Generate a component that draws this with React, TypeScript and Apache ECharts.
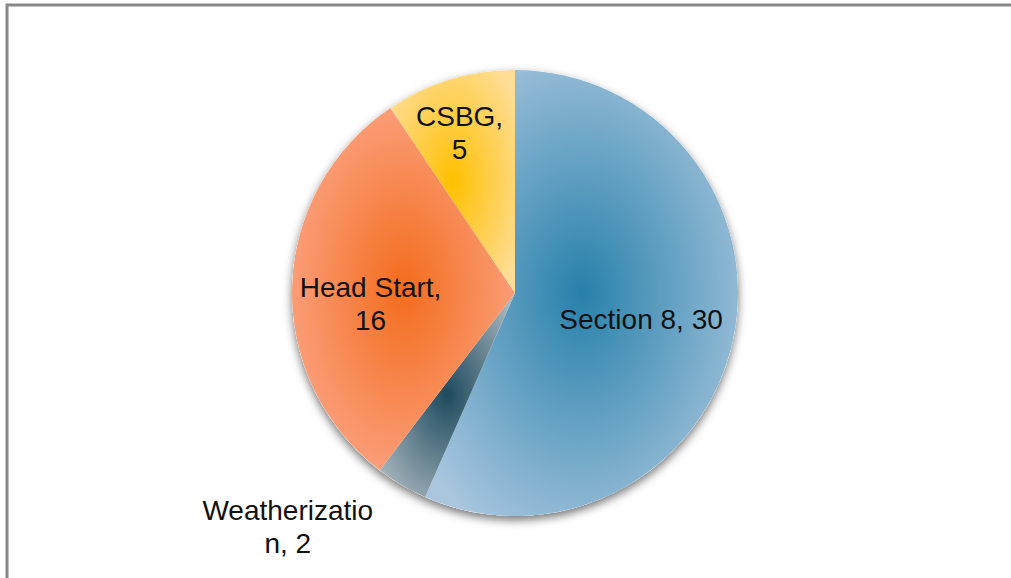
import React, { useEffect, useRef } from "react";
import * as echarts from "echarts";

const categories = ["Section 8", "Weatherization", "Head Start", "CSBG"];
const values = [30, 2, 16, 5];
const labelTexts = ["Section 8, 30", "Weatherizatio\nn, 2", "Head Start,\n16", "CSBG,\n5"];
const innerColors = ["#2780ab", "#1d4a5e", "#f36c1c", "#ffc000"];
const outerColors = ["#a9c6de", "#a6b4bc", "#fca88c", "#ffdd95"];
const labelOffsets = [
  [14, 3],
  [-169, 135],
  [-30, 14],
  [-22, -50],
];

export default function App() {
  const ref = useRef<HTMLDivElement>(null);
  useEffect(() => {
    document.body.style.margin = "0";
    const chart = echarts.init(ref.current!, null, { renderer: "svg" });
    const data = categories.map((name, i) => ({
      name,
      value: values[i],
      itemStyle: {
        color: {
          type: "radial",
          x: 0.5,
          y: 0.5,
          r: 0.62,
          colorStops: [
            { offset: 0, color: innerColors[i] },
            { offset: 1, color: outerColors[i] },
          ],
        },
      },
    }));
    chart.setOption({
      animation: false,
      backgroundColor: "#ffffff",
      graphic: [
        {
          type: "rect",
          shape: { x: 7, y: 5, width: 1200, height: 800 },
          style: { fill: "none", stroke: "#888888", lineWidth: 3 },
          silent: true,
          z: 0,
        },
      ],
      series: [
        {
          type: "pie",
          silent: true,
          center: [515, 293],
          radius: 223,
          startAngle: 90,
          clockwise: true,
          label: { show: false },
          labelLine: { show: false },
          itemStyle: {
            color: "#ffffff",
            shadowColor: "rgba(0,0,0,0.55)",
            shadowBlur: 10,
            shadowOffsetX: 0,
            shadowOffsetY: 4,
          },
          data: [{ value: 1, name: "" }],
          z: 1,
        },
        {
          type: "pie",
          center: [515, 293],
          radius: 223,
          startAngle: 90,
          clockwise: true,
          avoidLabelOverlap: false,
          z: 2,
          label: {
            show: true,
            position: "inside",
            formatter: (p: any) => labelTexts[p.dataIndex],
            color: "#111111",
            fontFamily: "Liberation Sans, Arial, sans-serif",
            fontSize: 28,
            lineHeight: 33,
            align: "center",
          },
          labelLine: { show: false },
          labelLayout: (p: any) => ({
            dx: labelOffsets[p.dataIndex][0],
            dy: labelOffsets[p.dataIndex][1],
          }),
          data,
        },
      ],
    });
    return () => chart.dispose();
  }, []);
  return (
    <div
      ref={ref}
      style={{ position: "fixed", left: 0, top: 0, width: 1011, height: 578 }}
    />
  );
}
